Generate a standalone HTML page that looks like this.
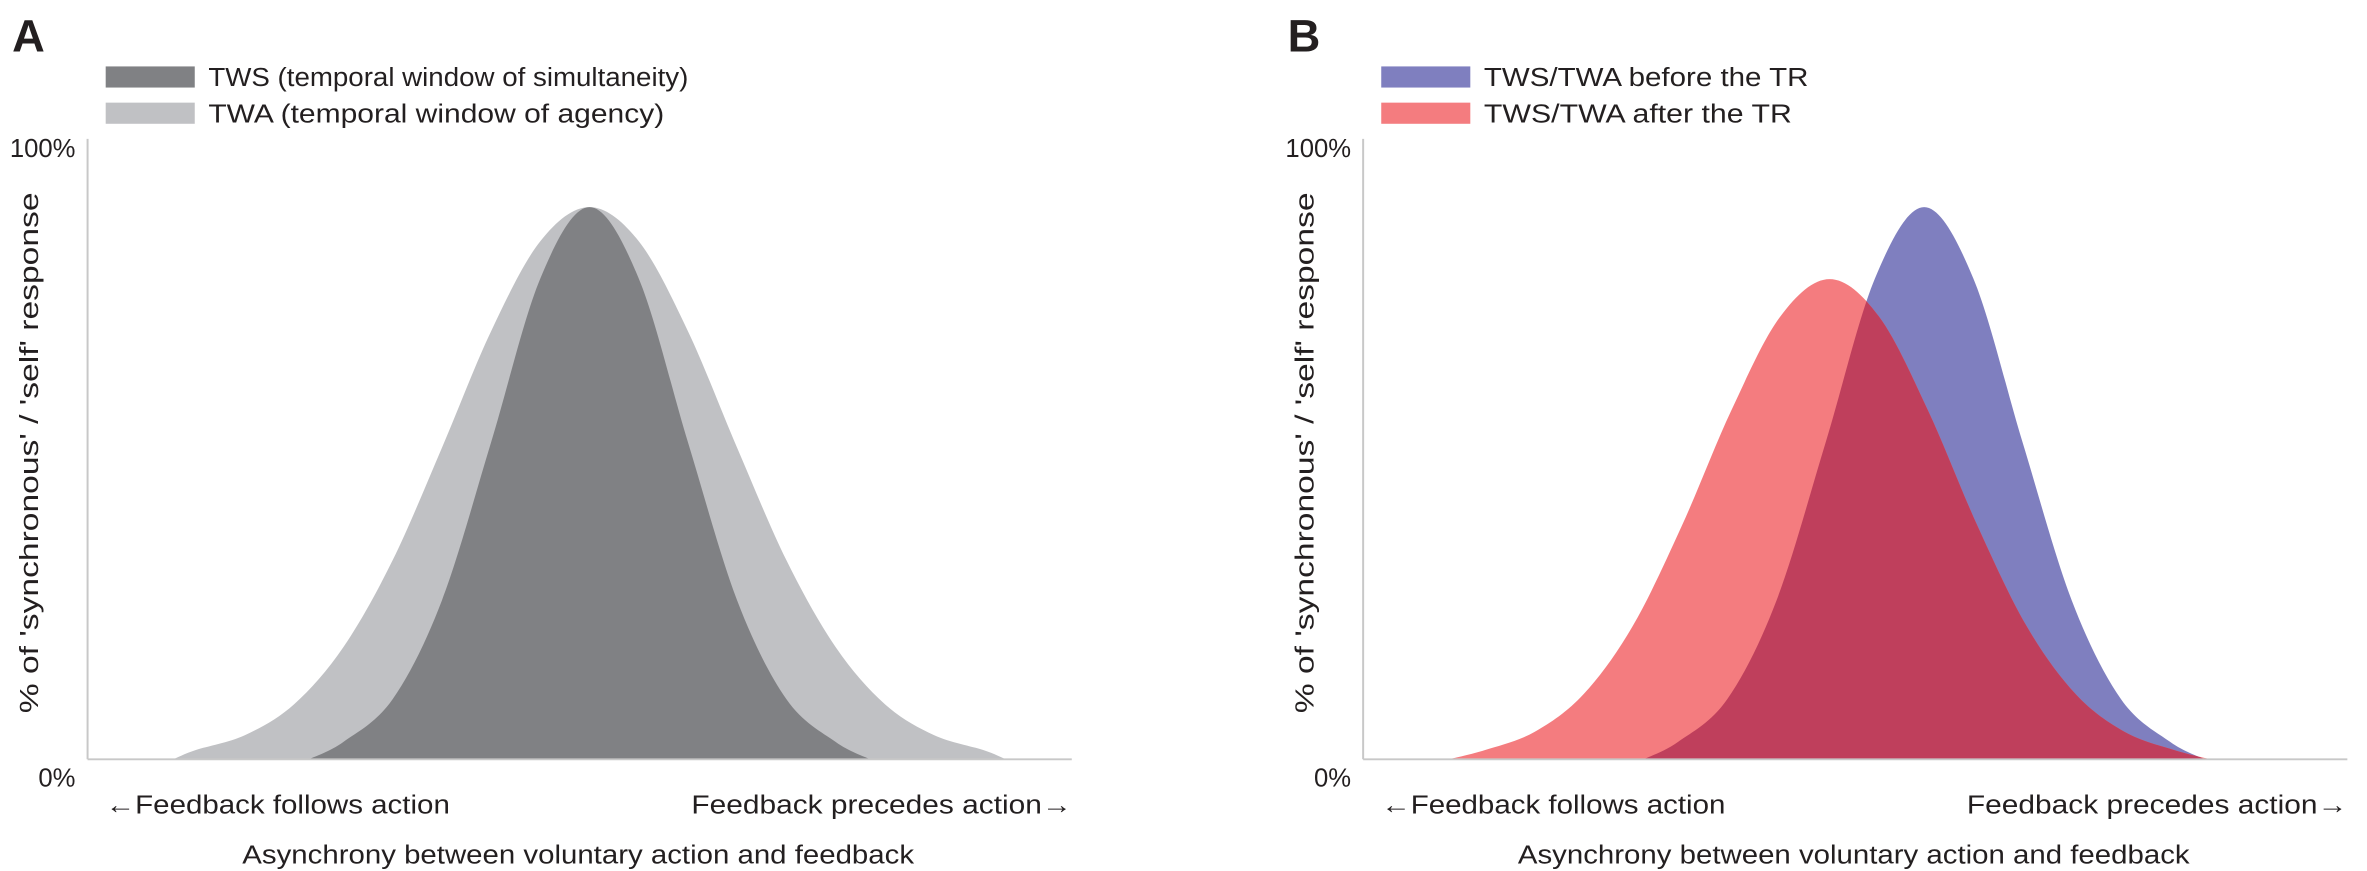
<!DOCTYPE html>
<html><head><meta charset="utf-8"><style>
html,body{margin:0;padding:0;background:#fff;}
svg{display:block;}
text{font-family:"Liberation Sans",sans-serif;fill:#231f20;}
</style></head><body>
<svg id="fig" width="2367" height="871" viewBox="0 0 1568 577">
<defs></defs>
<g id="panelA">
<text x="8" y="34" font-size="30" font-weight="bold">A</text>
<rect x="70" y="44" width="59" height="14" fill="#808184"/>
<text x="138" y="57" font-size="17" textLength="318" lengthAdjust="spacingAndGlyphs">TWS (temporal window of simultaneity)</text>
<rect x="70" y="68" width="59" height="14" fill="#c0c1c4"/>
<text x="138" y="81" font-size="17" textLength="302" lengthAdjust="spacingAndGlyphs">TWA (temporal window of agency)</text>
</g>
<g id="panelB">
<text x="853" y="34" font-size="30" font-weight="bold">B</text>
<rect x="915" y="44" width="59" height="14" fill="#7f7fbf"/>
<text x="983" y="57" font-size="17" textLength="215" lengthAdjust="spacingAndGlyphs">TWS/TWA before the TR</text>
<rect x="915" y="68" width="59" height="14" fill="#f47c7f"/>
<text x="983" y="81" font-size="17" textLength="204" lengthAdjust="spacingAndGlyphs">TWS/TWA after the TR</text>
</g>
</svg>
<script>
// Panel A data (x in 0..100 asynchrony units, y in % response)
const twaX = [8.7, 11, 16, 21, 26, 31, 36, 41, 46, 51, 56, 61, 66, 71, 76, 81, 86, 91, 93.3];
const twaY = [0, 1.5, 3.9, 8.9, 18.1, 32.1, 50.2, 69.0, 83.5, 89, 83.5, 69.0, 50.2, 32.1, 18.1, 8.9, 3.9, 1.5, 0];
const twsX = [22.5, 26, 31, 36, 41, 46, 51, 56, 61, 66, 71, 76, 79.5];
const twsY = [0, 2.8, 9.7, 25.6, 51.1, 77.5, 89, 77.5, 51.1, 25.6, 9.7, 2.8, 0];
// Panel B data
const beforeX = [28.5, 32, 37, 42, 47, 52, 57, 62, 67, 72, 77, 82, 85.5];
const beforeY = [0, 2.8, 9.7, 25.6, 51.1, 77.5, 89, 77.5, 51.1, 25.6, 9.7, 2.8, 0];
const afterX = [8.7, 12.4, 17.4, 22.4, 27.4, 32.4, 37.4, 42.4, 47.4, 52.4, 57.4, 62.4, 67.4, 72.4, 77.4, 82.4, 86.1];
const afterY = [0, 1.5, 4.4, 10.5, 21.5, 37.7, 56.2, 71.4, 77.4, 71.4, 56.2, 37.7, 21.5, 10.5, 4.4, 1.5, 0];
const yTicks = ["0%", "100%"];

const NS = "http://www.w3.org/2000/svg";
const svg = document.getElementById("fig");
function mk(tag, attrs, parent) {
  const e = document.createElementNS(NS, tag);
  for (const k in attrs) e.setAttribute(k, attrs[k]);
  (parent || svg).appendChild(e);
  return e;
}
const y0 = 503, yTop = 92;
function yScale(v) { return y0 - v / 100 * (y0 - yTop); }
function makeX(left) { return v => left + v / 100 * 652; }

function curvePath(xs, ys, sx) {
  const p = xs.map((x, i) => [sx(x), yScale(ys[i])]);
  let d = "M" + p[0][0] + "," + p[0][1];
  for (let i = 0; i < p.length - 1; i++) {
    const p0 = p[Math.max(0, i - 1)], p1 = p[i], p2 = p[i + 1], p3 = p[Math.min(p.length - 1, i + 2)];
    let c1y = p1[1] + (p2[1] - p0[1]) / 6, c2y = p2[1] - (p3[1] - p1[1]) / 6;
    c1y = Math.min(c1y, y0); c2y = Math.min(c2y, y0);
    d += " C" + (p1[0] + (p2[0] - p0[0]) / 6) + "," + c1y + " " + (p2[0] - (p3[0] - p1[0]) / 6) + "," + c2y + " " + p2[0] + "," + p2[1];
  }
  d += " Z";
  return d;
}

function axes(left, g, suffix) {
  const sx = makeX(left);
  const ax = mk("line", {x1: left, y1: yTop, x2: left, y2: y0, stroke: "#c8c8c8", "stroke-width": 1.3}, g);
  
  
  const bx = mk("line", {x1: left, y1: y0, x2: left + 652, y2: y0, stroke: "#c8c8c8", "stroke-width": 1.3}, g);
  
  
  [0, 100].forEach((v, i) => {
    const t = mk("text", {x: left - 8, y: yScale(v) + (v === 0 ? 18 : 12), "font-size": 17, "text-anchor": "end"}, g);
    t.textContent = yTicks[i];
    
    
  });
  const yt = mk("text", {x: 0, y: 0, "font-size": 17, "text-anchor": "middle", transform: "translate(" + (left - 33) + ",300) rotate(-90)", textLength: 345, lengthAdjust: "spacingAndGlyphs"}, g);
  yt.textContent = "% of 'synchronous' / 'self' response";
  
  
  const l1 = mk("text", {x: left + 12, y: 539, "font-size": 17, textLength: 228, lengthAdjust: "spacingAndGlyphs"}, g);
  l1.textContent = "\u2190Feedback follows action";
  
  
  const l2 = mk("text", {x: left + 652, y: 539, "font-size": 17, "text-anchor": "end", textLength: 252, lengthAdjust: "spacingAndGlyphs"}, g);
  l2.textContent = "Feedback precedes action\u2192";
  
  
  const xt = mk("text", {x: left + 325, y: 572, "font-size": 17, "text-anchor": "middle", textLength: 445, lengthAdjust: "spacingAndGlyphs"}, g);
  xt.textContent = "Asynchrony between voluntary action and feedback";
  
  
  return sx;
}

// Panel A
const gA = document.getElementById("panelA");
const sxA = makeX(58);
const twa = mk("path", {d: curvePath(twaX, twaY, sxA), fill: "#c0c1c4"}, gA);


const tws = mk("path", {d: curvePath(twsX, twsY, sxA), fill: "#808184"}, gA);


axes(58, gA, "a");

// Panel B
const gB = document.getElementById("panelB");
const sxB = makeX(903);
const defs = svg.querySelector("defs");
const cp = mk("clipPath", {id: "clipBefore"}, defs);
const beforeD = curvePath(beforeX, beforeY, sxB);
mk("path", {d: beforeD}, cp);
const before = mk("path", {d: beforeD, fill: "#7f7fbf"}, gB);


const afterD = curvePath(afterX, afterY, sxB);
const after = mk("path", {d: afterD, fill: "#f47c7f"}, gB);


const overlap = mk("path", {d: afterD, fill: "#bf3f5c", "clip-path": "url(#clipBefore)"}, gB);


axes(903, gB, "b");
</script>
</body></html>
